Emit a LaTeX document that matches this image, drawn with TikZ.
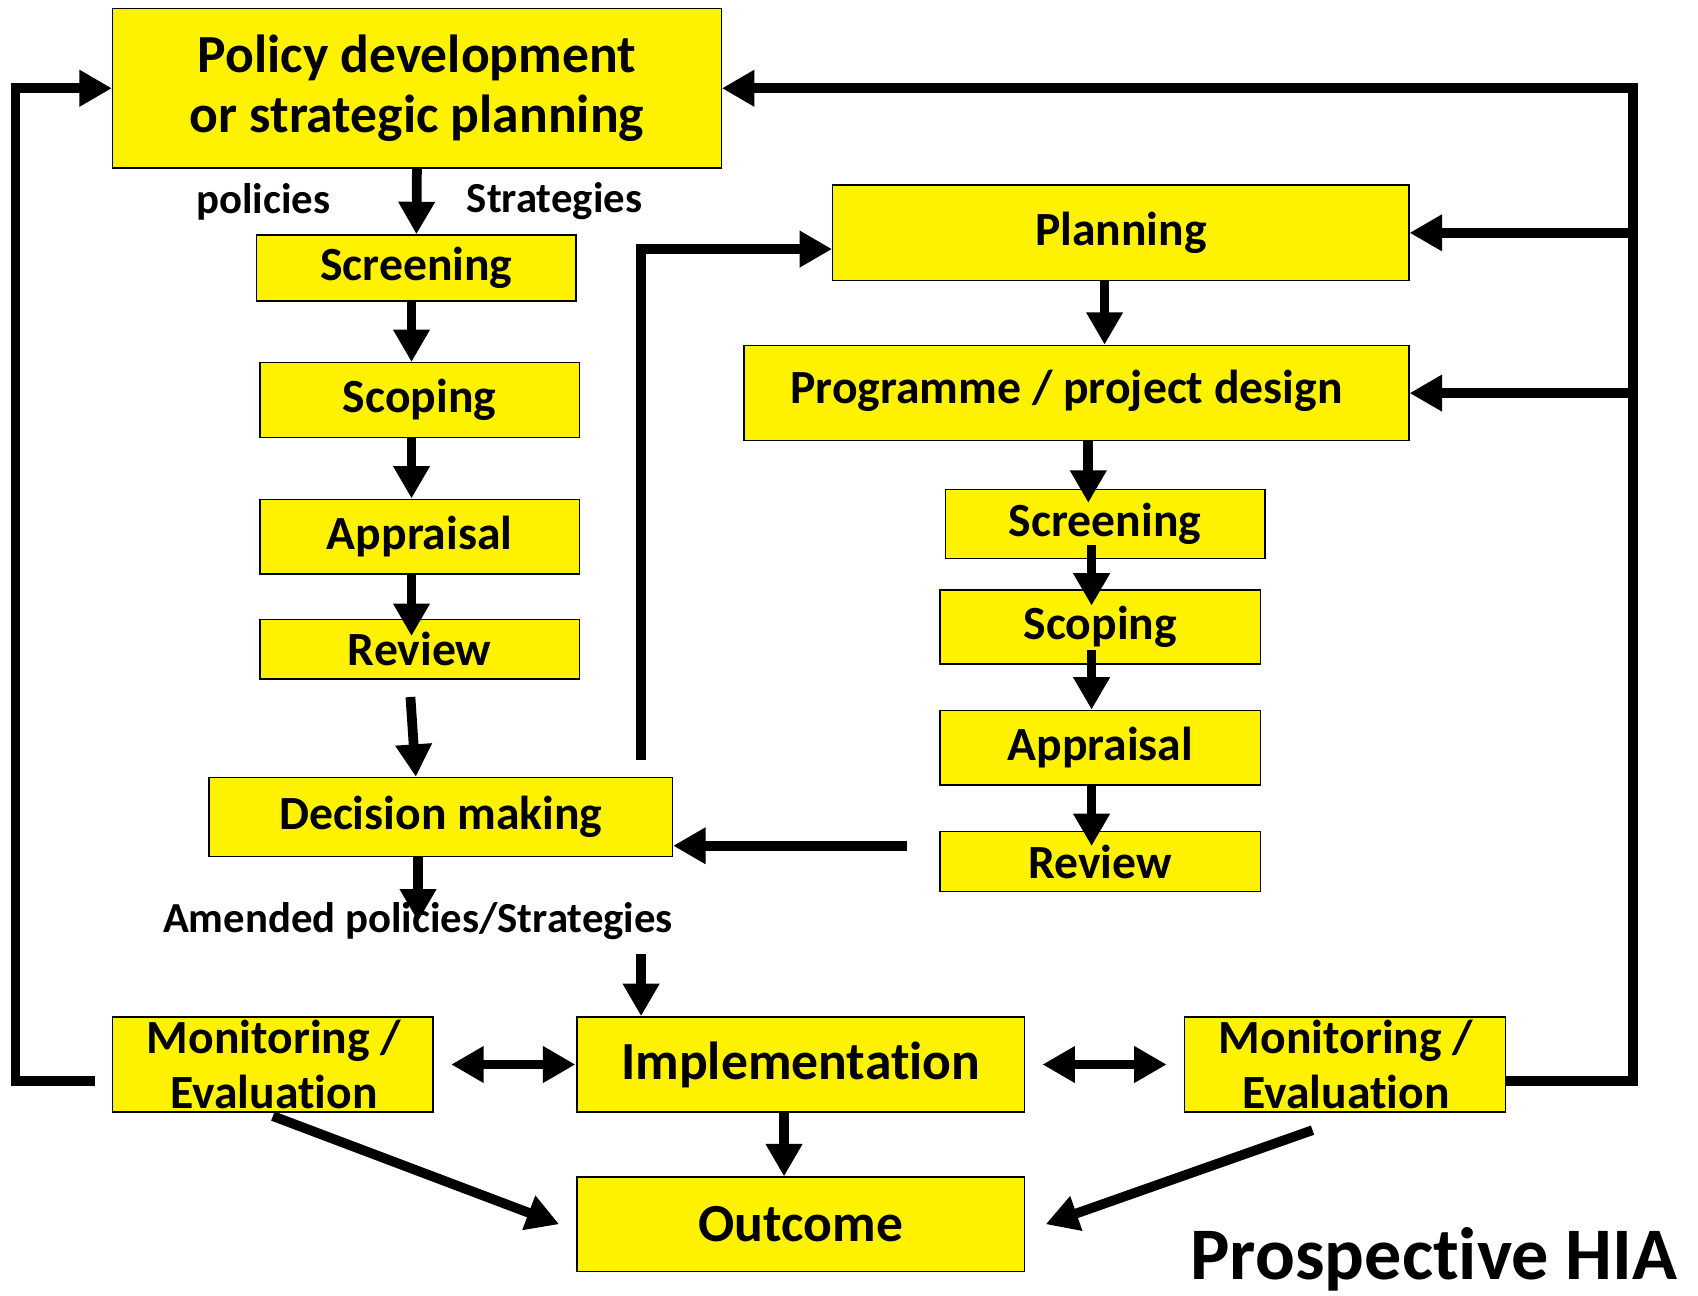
\documentclass[tikz,border=0pt]{standalone}
\usepackage{fontspec}
\setmainfont{Carlito}[Ligatures=NoCommon]
\usetikzlibrary{arrows.meta,positioning,calc}

\begin{document}
\begin{tikzpicture}[x=1pt, y=-1pt,
    box/.style={rectangle, draw, line width=1.3pt, fill=yellow, inner sep=0pt, align=center, font=\bfseries\fontsize{44}{50}\selectfont},
    bigbox/.style={box, font=\bfseries\fontsize{49.5}{55}\selectfont},
    boxtext/.style={inner sep=0pt, align=center, font=\bfseries\fontsize{44}{50}\selectfont},
    tag/.style={inner sep=1pt, font=\bfseries\fontsize{39.5}{44}\selectfont},
    flow/.style={line width=9pt, -{Triangle[width=32pt,length=30pt]}},
    both/.style={line width=9pt, {Triangle[width=32pt,length=30pt]}-{Triangle[width=32pt,length=30pt]}}
]
    \useasboundingbox (0,0) rectangle (1568,1196);

    % policy track
    \node[bigbox, minimum width=562, minimum height=147] (policy) at (385,81.5) {Policy development\\or strategic planning};
    \node[box, minimum width=295, minimum height=61] (scrL) at (384.5,247.5) {Screening};
    \node[box, minimum width=295, minimum height=69] (scopL) at (387.5,369.5) {Scoping};
    \node[box, minimum width=295, minimum height=69] (apprL) at (387.5,495.5) {Appraisal};
    \node[box, minimum width=295, minimum height=55] (revL) at (387.5,599.5) {Review};
    \node[box, minimum width=428, minimum height=73] (decision) at (407,754.5) {Decision making};

    % programme track
    \node[box, minimum width=532, minimum height=88] (planning) at (1035,215) {Planning};
    \node[box, minimum width=614, minimum height=88] (progdes) at (994,363) {};
    \node[boxtext] (progtxt) at (985,361) {Programme / project design};
    \node[box, minimum width=295, minimum height=64] (scrR) at (1020.5,484) {Screening};
    \node[box, minimum width=296, minimum height=68] (scopR) at (1016,579) {Scoping};
    \node[box, minimum width=296, minimum height=69] (apprR) at (1016,690.5) {Appraisal};
    \node[box, minimum width=296, minimum height=55] (revR) at (1016,795.5) {Review};

    % bottom row
    \node[box, minimum width=296, minimum height=88] (monL) at (252,983) {};
    \node[boxtext] (monLtxt) at (253,983) {Monitoring /\\Evaluation};
    \node[bigbox, minimum width=413, minimum height=88] (impl) at (739.5,983) {Implementation};
    \node[box, minimum width=296, minimum height=88] (monR) at (1242,983) {};
    \node[boxtext] (monRtxt) at (1243,983) {Monitoring /\\Evaluation};
    \node[bigbox, minimum width=413, minimum height=87] (outcome) at (739.5,1130.5) {Outcome};

    % labels
    \node[tag] (pol) at (243,186) {policies};
    \node[tag] (strat) at (512,186) {Strategies};
    \node[tag] (amended) at (386,851) {Amended policies/Strategies};
    \node[font=\bfseries\fontsize{68.5}{74}\selectfont, inner sep=0pt] (title) at (1324,1163) {Prospective HIA};

    \coordinate (up) at (592,702);
    \coordinate (back) at (838,781);
    \coordinate (rgt) at (1508,0);

    % left column arrows
    \draw[flow] (policy.south) -- (scrL.north);
    \draw[flow] ([xshift=-4.5pt]scrL.south) -- ([xshift=-7.5pt]scopL.north);
    \draw[flow] ([xshift=-7.5pt]scopL.south) -- ([xshift=-7.5pt]apprL.north);
    \draw[flow] ([xshift=-7.5pt]apprL.south) -- ([xshift=-7.5pt,yshift=-16pt]revL.north);
    \draw[flow] ($(revL.south)+(-8.5,16)$) -- ([xshift=-23pt]decision.north);
    \draw[flow] (decision.south -| amended.center) -- (amended.center);
    \draw[flow] ($(amended.south -| up)+(0,12)$) -- (impl.north -| up);
    \draw[flow] (up) |- ([yshift=-15pt]planning.west);

    % right column arrows
    \draw[flow] ([xshift=-15pt]planning.south) -- ([xshift=26pt]progdes.north);
    \draw[flow] ([xshift=11pt]progdes.south) -- ([xshift=-15.5pt,yshift=-13pt]scrR.north);
    \draw[flow] ([xshift=-12.5pt,yshift=13pt]scrR.south) -- ([xshift=-8pt,yshift=-15pt]scopR.north);
    \draw[flow] ([xshift=-8pt,yshift=13pt]scopR.south) -- ([xshift=-8pt]apprR.north);
    \draw[flow] ([xshift=-8pt]apprR.south) -- ([xshift=-8pt,yshift=-14pt]revR.north);
    \draw[flow] (back) -- (back -| decision.east);

    % bottom arrows
    \draw[both] ([xshift=16pt]monL.east) -- ([xshift=-1pt]impl.west);
    \draw[both] ([xshift=16pt]impl.east) -- ([xshift=-16pt]monR.west);
    \draw[flow] ([xshift=-15.5pt]impl.south) -- ([xshift=-15.5pt]outcome.north);
    \draw[flow] ([yshift=-3pt]monL.south) -- ([xshift=-16pt]outcome.west);
    \draw[flow] ($(monR.south)+(-30,16)$) -- ([xshift=19pt]outcome.east);

    % feedback loops
    \draw[flow] ($(monL.west)+(-16,15)$) -- ++(-73,0) |- (policy.west);
    \draw[flow] ([yshift=-15pt]monR.east) -| (rgt |- policy.east) -- (policy.east);
    \draw[flow] (planning.east -| rgt) -- (planning.east);
    \draw[flow] (progdes.east -| rgt) -- (progdes.east);
\end{tikzpicture}
\end{document}
